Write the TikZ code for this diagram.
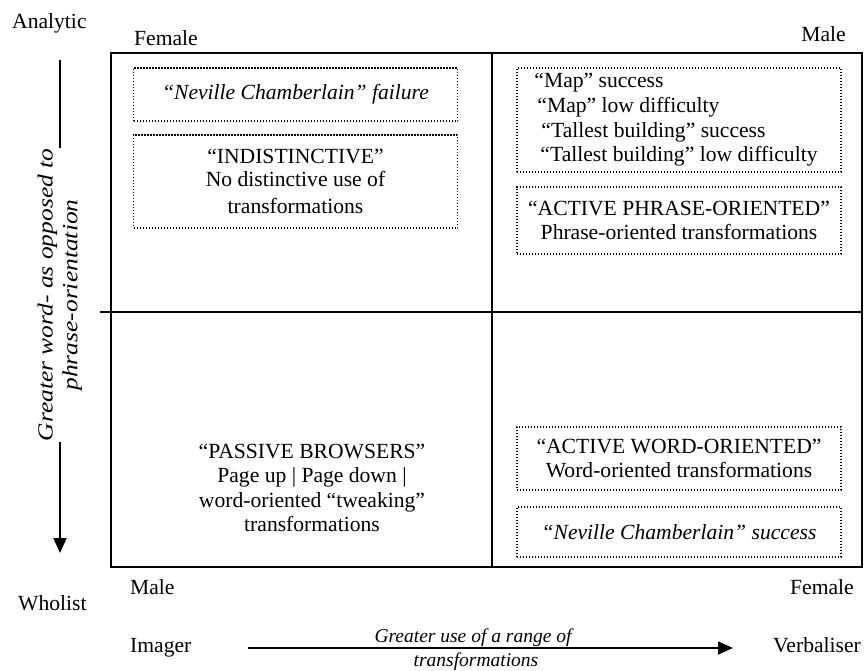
\documentclass[tikz,border=0pt]{standalone}
\usepackage{fontspec}
\usepackage{graphicx}
\setmainfont{Liberation Serif}
\usetikzlibrary{arrows.meta}
\begin{document}
\begin{tikzpicture}[x=1pt,y=-1pt,
  txt/.style={font=\fontsize{21.6}{24.6}\selectfont, inner sep=0pt},
  dotbox/.style={draw, line width=1.1pt, dash pattern=on 1.1pt off 1.9pt,
    minimum width=324pt, align=center, inner sep=0pt,
    font=\fontsize{21.6}{24.6}\selectfont},
  frame/.style={line width=1.6pt},
  divider/.style={line width=1.4pt},
  axis/.style={line width=1.8pt, -{Triangle[length=15pt,width=13pt]}},
  axislab/.style={font=\fontsize{19.5}{23}\selectfont\itshape, align=center, inner sep=0pt}]
\useasboundingbox (0,0) rectangle (865,670);

% main frame and dividers
\draw[frame] (111,52.7) rectangle (862,567);
\draw[divider] (492,52.7) -- (492,568);
\draw[divider] (100,312) -- (862,312);

% corner labels
\node[txt, anchor=base west] (analytic) at (12,28) {Analytic};
\node[txt, anchor=base west] (femaleTL) at (134,45) {Female};
\node[txt, anchor=base east] (maleTR) at (846,41) {Male};
\node[txt, anchor=base west] (wholist) at (18,610) {Wholist};
\node[txt, anchor=base west] (maleBL) at (130,594) {Male};
\node[txt, anchor=base east] (femaleBR) at (854,594) {Female};
\node[txt, anchor=base west] (imager) at (130,652) {Imager};
\node[txt, anchor=base east] (verbaliser) at (861,652) {Verbaliser};

% vertical axis
\coordinate (vA) at (60,60);
\coordinate (vB) at (60,553);
\draw[axis] (vA) -- (vB);
\node[txt, font=\fontsize{21.6}{25}\selectfont\itshape, rotate=90, fill=white, inner sep=1pt] (vlab) at (60,295)
  {\scalebox{1.18}[1]{\begin{tabular}{@{}c@{}}Greater word- as opposed to\\[-0.5pt]phrase-orientation\end{tabular}}};

% horizontal axis
\coordinate (hA) at (248,648);
\coordinate (hB) at (733,648);
\draw[axis] (hA) -- (hB);
\node[axislab, anchor=base] (hlab1) at (473,642) {Greater use of a range of};
\node[axislab, anchor=base] (hlab2) at (476,666) {transformations};

% top-left quadrant
\node[dotbox, minimum height=53pt] (ncfail) at (295.5,94.5)
  {\itshape \textquotedblleft Neville Chamberlain\textquotedblright\ failure};
\node[dotbox, minimum height=93pt] (indist) at (295.5,181.5)
  {\textquotedblleft INDISTINCTIVE\textquotedblright\\[-2pt] No distinctive use of\\[2pt] transformations};

% top-right quadrant
\node[dotbox, minimum height=104pt, align=left] (mapbox) at (679,120)
  {\hspace*{-6pt}\textquotedblleft Map\textquotedblright\ success\\
   \hspace*{-3pt}\textquotedblleft Map\textquotedblright\ low difficulty\\
   \hspace*{1pt}\textquotedblleft Tallest building\textquotedblright\ success\\
   \textquotedblleft Tallest building\textquotedblright\ low difficulty};
\node[dotbox, minimum height=67pt] (actphrase) at (679,220.5)
  {\textquotedblleft ACTIVE PHRASE-ORIENTED\textquotedblright\\ Phrase-oriented transformations};

% bottom-left quadrant
\node[txt, align=center] (passive) at (312,488)
  {\textquotedblleft PASSIVE BROWSERS\textquotedblright\\ Page up \textbar{} Page down \textbar\\ word-oriented \textquotedblleft tweaking\textquotedblright\\ transformations};

% bottom-right quadrant
\node[dotbox, minimum height=63pt] (actword) at (679,458.5)
  {\textquotedblleft ACTIVE WORD-ORIENTED\textquotedblright\\ Word-oriented transformations};
\node[dotbox, minimum height=50pt] (ncsucc) at (679,532)
  {\itshape \textquotedblleft Neville Chamberlain\textquotedblright\ success};
\end{tikzpicture}
\end{document}
